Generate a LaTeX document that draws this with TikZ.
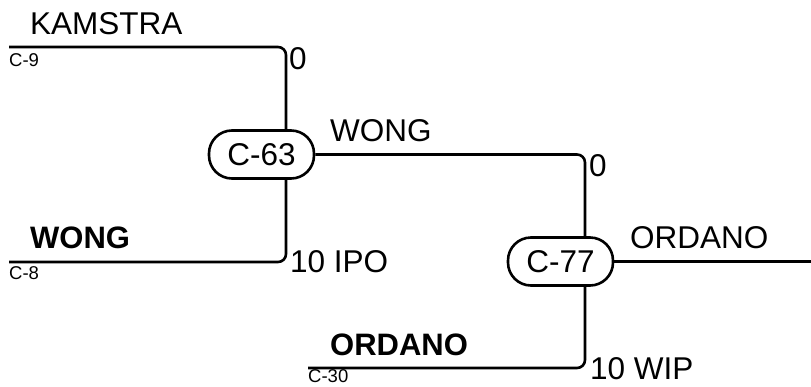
\documentclass[tikz,border=0pt]{standalone}
\usepackage{fontspec}
\setmainfont{Liberation Sans}
\begin{document}
\begin{tikzpicture}[x=1pt,y=-1pt,
  big/.style={anchor=base west,inner sep=0pt,font=\fontsize{31.5}{36}\selectfont},
  bigb/.style={big,font=\fontsize{31}{36}\selectfont\bfseries},
  small/.style={anchor=base west,inner sep=0pt,font=\fontsize{18.5}{22}\selectfont},
  junc/.style={draw,line width=2.6pt,rounded corners=23pt,minimum width=105pt,minimum height=48pt,inner sep=0pt,font=\fontsize{31.5}{36}\selectfont},
  wire/.style={line width=2.6pt,rounded corners=8pt}]
\useasboundingbox (0,0) rectangle (811,386);
\node[junc] (c63) at (261.5,154.5) {C-63};
\node[junc] (c77) at (560.5,261.5) {C-77};
\coordinate (k9) at (9,47);
\coordinate (k8) at (9,262);
\coordinate (k30) at (308,368);
\coordinate (kout) at (811,261.5);
\draw[wire] (k9) -| ([xshift=24.5pt]c63.north);
\draw[wire] (k8) -| ([xshift=24.5pt]c63.south);
\draw[wire] (c63.east) -| ([xshift=24.5pt]c77.north);
\draw[wire] (k30) -| ([xshift=24.5pt]c77.south);
\draw[wire] (c77.east) -- (kout);
\node[big] (lkam) at (30,34) {KAMSTRA};
\node[small] (l9) at (9,66) {C-9};
\node[big] (l0a) at (289,69) {0};
\node[bigb] (lwb) at (30,248) {WONG};
\node[small] (l8) at (9,279) {C-8};
\node[big] (lipo) at (290,272) {10 IPO};
\node[big] (lwong) at (330,141) {WONG};
\node[big] (l0b) at (589,176) {0};
\node[big] (lord) at (630,248) {ORDANO};
\node[bigb] (lordb) at (330,355) {ORDANO};
\node[small] (l30) at (308,382.5) {C-30};
\node[big] (lwip) at (590,379) {10 WIP};
\end{tikzpicture}
\end{document}
